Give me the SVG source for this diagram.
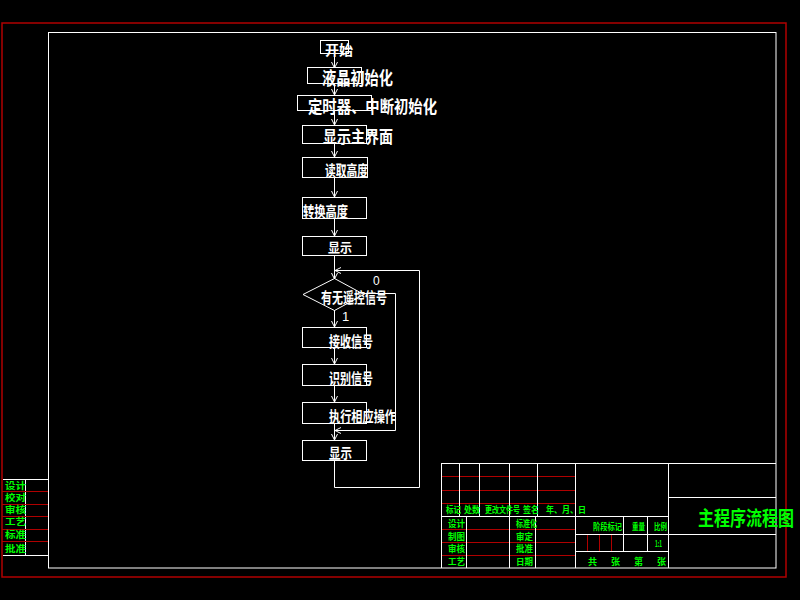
<svg xmlns="http://www.w3.org/2000/svg" width="800" height="600" viewBox="0 0 800 600">
<defs>
<style>
.w{fill:none;stroke:#ffffff;stroke-width:1}
.r{fill:none;stroke:#b00000;stroke-width:1}
.t{fill:#ffffff;font-family:"Noto Sans CJK SC","Liberation Sans",sans-serif;font-weight:bold}
.n{fill:#ffffff;font-family:"Liberation Sans",sans-serif}
.g{fill:#00ff00;font-family:"Noto Sans CJK SC","Liberation Sans",sans-serif;font-size:9px;font-weight:bold}
.gs{fill:#00ff00;font-family:"Noto Sans CJK SC","Liberation Sans",sans-serif;font-size:9px;font-weight:bold}
</style>
<marker id="ah" markerUnits="userSpaceOnUse" markerWidth="8" markerHeight="8" refX="6" refY="3" orient="auto">
<path d="M0,0 L6,3 L0,6" fill="none" stroke="#ffffff" stroke-width="1"/>
</marker>
</defs>
<rect width="800" height="600" fill="#000000"/>
<g id="frame">
<rect x="2" y="23" width="784" height="554" fill="none" stroke="#b00000" stroke-width="1.5"/>
<rect x="48.5" y="32.5" width="727.5" height="535.5" class="w"/>
</g>
<g id="left-block">
<path class="w" d="M3,479.5H48 M3,555.5H48 M25.5,479.5V555.5"/>
<path class="r" d="M2,491.5H48 M2,504.5H48 M2,516.5H48 M2,529.5H48 M2,541.5H48"/>
<text class="gs" x="5" y="489" textLength="21" lengthAdjust="spacingAndGlyphs">设计</text>
<text class="gs" x="5" y="501" textLength="21" lengthAdjust="spacingAndGlyphs">校对</text>
<text class="gs" x="5" y="513" textLength="21" lengthAdjust="spacingAndGlyphs">审核</text>
<text class="gs" x="5" y="525" textLength="21" lengthAdjust="spacingAndGlyphs">工艺</text>
<text class="gs" x="5" y="538" textLength="21" lengthAdjust="spacingAndGlyphs">标准</text>
<text class="gs" x="5" y="552" textLength="21" lengthAdjust="spacingAndGlyphs">批准</text>
</g>
<g id="title-block">
<path class="r" d="M441,476.5H575 M441,490.5H575 M441,503.5H575 M441,529.5H575 M441,542.5H575 M441,555.5H575 M587.5,534V551 M599.5,534V551 M611.5,534V551"/>
<path class="w" d="M441,463.5H776 M441.5,463V568 M459.5,463V516 M479.5,463V516 M509.5,463V568 M537.5,463V516 M466.5,516V568 M535.5,516V568 M575.5,463V568 M668.5,463V568 M441,516.5H668 M668,497.5H776 M575,534.5H776 M575,551.5H668 M623.5,516V551 M647.5,516V551"/>
<text class="g" x="446" y="513" textLength="15" lengthAdjust="spacingAndGlyphs">标记</text>
<text class="g" x="464" y="513" textLength="16" lengthAdjust="spacingAndGlyphs">处数</text>
<text class="g" x="485" y="513" textLength="35" lengthAdjust="spacingAndGlyphs">更改文件号</text>
<text class="g" x="523" y="513" textLength="16" lengthAdjust="spacingAndGlyphs">签名</text>
<text class="g" x="546" y="513" textLength="40" lengthAdjust="spacingAndGlyphs">年、月、日</text>
<text class="g" x="448" y="527" textLength="17" lengthAdjust="spacingAndGlyphs">设计</text>
<text class="g" x="448" y="540" textLength="17" lengthAdjust="spacingAndGlyphs">制图</text>
<text class="g" x="448" y="552" textLength="17" lengthAdjust="spacingAndGlyphs">审核</text>
<text class="g" x="448" y="565" textLength="17" lengthAdjust="spacingAndGlyphs">工艺</text>
<text class="g" x="516" y="527" textLength="21" lengthAdjust="spacingAndGlyphs">标准化</text>
<text class="g" x="516" y="540" textLength="17" lengthAdjust="spacingAndGlyphs">审定</text>
<text class="g" x="516" y="552" textLength="17" lengthAdjust="spacingAndGlyphs">批准</text>
<text class="g" x="516" y="565" textLength="17" lengthAdjust="spacingAndGlyphs">日期</text>
<text class="g" x="593" y="530" textLength="29" lengthAdjust="spacingAndGlyphs">阶段标记</text>
<text class="g" x="632" y="530" textLength="13" lengthAdjust="spacingAndGlyphs">重量</text>
<text class="g" x="654" y="530" textLength="13" lengthAdjust="spacingAndGlyphs">比例</text>
<text class="g" x="655" y="547" textLength="7" lengthAdjust="spacingAndGlyphs">1:1</text>
<text class="g" x="588" y="565">共</text>
<text class="g" x="611" y="565">张</text>
<text class="g" x="634" y="565">第</text>
<text class="g" x="657" y="565">张</text>
<text x="698" y="526" textLength="96" lengthAdjust="spacingAndGlyphs" style="fill:#00ff00;font-family:'Noto Sans CJK SC','Liberation Sans',sans-serif;font-size:20px;font-weight:bold">主程序流程图</text>
</g>
<g id="connectors" class="w">
<path d="M334.5,53V68" marker-end="url(#ah)"/>
<path d="M334.5,83V95" marker-end="url(#ah)"/>
<path d="M334.5,110V125" marker-end="url(#ah)"/>
<path d="M334.5,143V157" marker-end="url(#ah)"/>
<path d="M334.5,177V197" marker-end="url(#ah)"/>
<path d="M334.5,218V236" marker-end="url(#ah)"/>
<path d="M334.5,255V279" marker-end="url(#ah)"/>
<path d="M334.5,310V327" marker-end="url(#ah)"/>
<path d="M334.5,347V364" marker-end="url(#ah)"/>
<path d="M334.5,385V402" marker-end="url(#ah)"/>
<path d="M334.5,423V440" marker-end="url(#ah)"/>
<path d="M334.5,460V487.5H419.5V270.5H335" marker-end="url(#ah)"/>
<path d="M364,293.5H395.5V430.5H335" marker-end="url(#ah)"/>
<text class="n" x="373" y="285" font-size="12" stroke="none">0</text>
<text class="n" x="342" y="321" font-size="13" stroke="none">1</text>
</g>
<g id="n-start"><rect class="w" x="320.5" y="40.5" width="28" height="13"/><text class="t" x="325" y="55" font-size="14" textLength="28" lengthAdjust="spacingAndGlyphs">开始</text></g>
<g id="n-lcd"><rect class="w" x="307.5" y="67.5" width="54" height="16"/><text class="t" x="322" y="85" font-size="18" textLength="71" lengthAdjust="spacingAndGlyphs">液晶初始化</text></g>
<g id="n-timer"><rect class="w" x="297.5" y="95.5" width="74" height="15"/><text class="t" x="308" y="113" font-size="17" textLength="129" lengthAdjust="spacingAndGlyphs">定时器、中断初始化</text></g>
<g id="n-main"><rect class="w" x="302.5" y="125.5" width="64" height="18"/><text class="t" x="323" y="143" font-size="17" textLength="70" lengthAdjust="spacingAndGlyphs">显示主界面</text></g>
<g id="n-read"><rect class="w" x="302.5" y="157.5" width="65" height="20"/><text class="t" x="325" y="176" font-size="15" textLength="43" lengthAdjust="spacingAndGlyphs">读取高度</text></g>
<g id="n-convert"><rect class="w" x="302.5" y="197.5" width="64" height="21"/><text class="t" x="303" y="217" font-size="15" textLength="45" lengthAdjust="spacingAndGlyphs">转换高度</text></g>
<g id="n-disp1"><rect class="w" x="302.5" y="236.5" width="64" height="19"/><text class="t" x="328" y="252" font-size="13" textLength="24" lengthAdjust="spacingAndGlyphs">显示</text></g>
<g id="n-decision"><path class="w" d="M303,294.5L334.5,278.5L364,294.5L334.5,310.5Z"/><text class="t" x="321" y="303" font-size="15" textLength="66" lengthAdjust="spacingAndGlyphs">有无遥控信号</text></g>
<g id="n-recv"><rect class="w" x="302.5" y="327.5" width="64" height="20"/><text class="t" x="329" y="347" font-size="15" textLength="44" lengthAdjust="spacingAndGlyphs">接收信号</text></g>
<g id="n-ident"><rect class="w" x="302.5" y="364.5" width="64" height="21"/><text class="t" x="329" y="384" font-size="15" textLength="44" lengthAdjust="spacingAndGlyphs">识别信号</text></g>
<g id="n-exec"><rect class="w" x="302.5" y="402.5" width="64" height="21"/><text class="t" x="329" y="422" font-size="15" textLength="67" lengthAdjust="spacingAndGlyphs">执行相应操作</text></g>
<g id="n-disp2"><rect class="w" x="302.5" y="440.5" width="64" height="20"/><text class="t" x="329" y="458" font-size="14" textLength="23" lengthAdjust="spacingAndGlyphs">显示</text></g>
</svg>
